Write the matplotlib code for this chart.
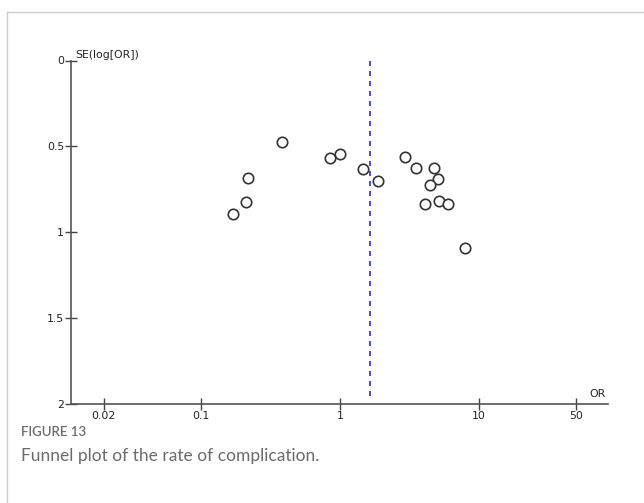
import numpy as np
import matplotlib
matplotlib.use("Agg")
import matplotlib.pyplot as plt
from matplotlib.lines import Line2D

# study estimates
odds_ratio = [0.384, 0.217, 0.212, 0.171, 0.848, 1.0, 1.464, 1.877, 2.937,
              3.52, 4.77, 5.07, 4.46, 4.07, 5.19, 5.95, 7.97]
se_log_or = [0.473, 0.682, 0.824, 0.894, 0.569, 0.544, 0.632, 0.700, 0.562,
             0.626, 0.626, 0.688, 0.723, 0.836, 0.818, 0.836, 1.092]
pooled_or = 1.65

x_ticks = [0.02, 0.1, 1, 10, 50]
x_tick_labels = ["0.02", "0.1", "1", "10", "50"]
y_ticks = [0, 0.5, 1, 1.5, 2]
y_tick_labels = ["0", "0.5", "1", "1.5", "2"]

plt.rcParams['font.family'] = ['DejaVu Sans']

fig = plt.figure(figsize=(6.44, 5.03), dpi=100)
ax = fig.add_axes([71 / 644, 1 - 404 / 503, 537 / 644, 343.5 / 503])

ax.set_xscale('log')
ax.set_xlim(0.0116, 85)
ax.set_ylim(2, 0)

# pooled estimate
ax.plot([pooled_or, pooled_or], [0, 1.97], color='#1f2fd8', lw=1.2,
        linestyle=(0, (3, 3)))

ax.plot(odds_ratio, se_log_or, linestyle='none', marker='o', markersize=7.5,
        markerfacecolor='white', markeredgecolor='#333333', markeredgewidth=1.2)

for side in ['top', 'right']:
    ax.spines[side].set_visible(False)
for side in ['left', 'bottom']:
    ax.spines[side].set_color('#555555')
    ax.spines[side].set_linewidth(1.2)

ax.set_xticks(x_ticks)
ax.set_xticklabels(x_tick_labels)
ax.xaxis.set_minor_locator(matplotlib.ticker.NullLocator())
ax.set_yticks(y_ticks)
ax.set_yticklabels(y_tick_labels)
ax.tick_params(direction='inout', length=8, width=1, color='#444444',
               labelsize=7.8, labelcolor='#222222')
ax.tick_params(axis='x', pad=1)
ax.tick_params(axis='y', pad=1)

ax.text(0.007, 1.0, "SE(log[OR])", transform=ax.transAxes, fontsize=7.8,
        ha='left', va='bottom', color='#222222')
ax.text(0.995, 0.015, "OR", transform=ax.transAxes, fontsize=7.8,
        ha='right', va='bottom', color='#222222')

# page frame
fig.add_artist(Line2D([7 / 644, 1], [1 - 12 / 503, 1 - 12 / 503],
                      color='#cccccc', lw=1))
fig.add_artist(Line2D([7 / 644, 7 / 644], [0, 1 - 12 / 503],
                      color='#cccccc', lw=1))

fig.text(21 / 644, 1 - 432 / 503, "FIGURE 13", fontsize=9.5, color='#6b6b6b',
         ha='left', va='center', fontweight='semibold', family=['Lato', 'DejaVu Sans'])
fig.text(21 / 644, 1 - 456 / 503, "Funnel plot of the rate of complication.",
         fontsize=12.5, color='#6b6b6b', ha='left', va='center',
         family=['Lato', 'DejaVu Sans'])

fig.savefig('out.png', dpi=100)
